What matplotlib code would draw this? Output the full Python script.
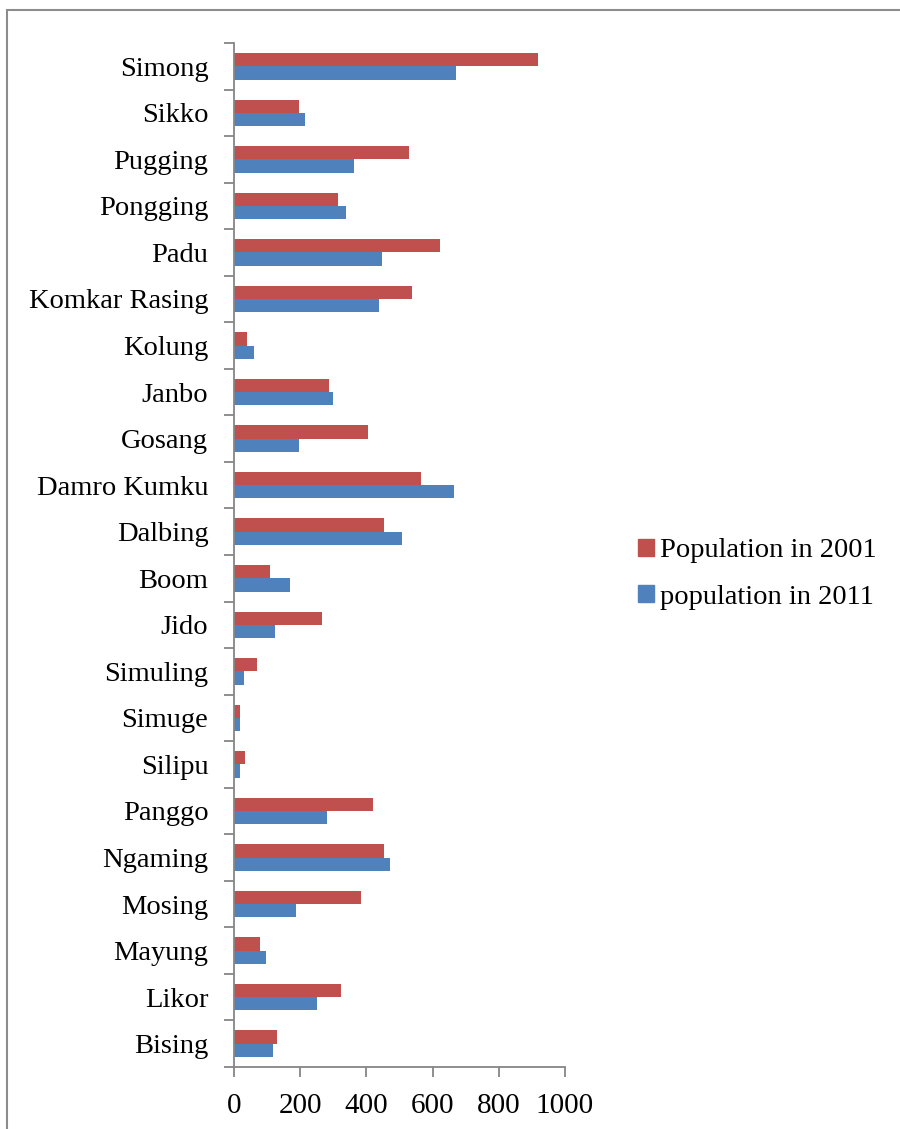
import numpy as np
import matplotlib
matplotlib.use('Agg')
import matplotlib.pyplot as plt
from matplotlib.patches import Rectangle, Patch

villages = ['Simong', 'Sikko', 'Pugging', 'Pongging', 'Padu', 'Komkar Rasing',
            'Kolung', 'Janbo', 'Gosang', 'Damro Kumku', 'Dalbing', 'Boom',
            'Jido', 'Simuling', 'Simuge', 'Silipu', 'Panggo', 'Ngaming',
            'Mosing', 'Mayung', 'Likor', 'Bising']
pop_2001 = [917, 196, 530, 315, 623, 538, 38, 288, 406, 565, 452, 109,
            266, 69, 19, 32, 421, 452, 384, 80, 324, 130]
pop_2011 = [672, 216, 364, 339, 448, 439, 61, 299, 195, 664, 509, 169,
            123, 30, 18, 18, 282, 471, 187, 97, 250, 118]
xticks = [0, 200, 400, 600, 800, 1000]

RED = '#C0504D'
BLUE = '#4F81BD'
GREY = '#868686'

plt.rcParams['font.family'] = ['Liberation Serif', 'DejaVu Serif']
fsize = 20.5

fig = plt.figure(figsize=(9, 11.29), dpi=100)
ax = fig.add_axes([234 / 900, 1 - 1067 / 1129, 331 / 900, 1024 / 1129])

# first category in the list sits at the top
n = len(villages)
pos = np.arange(n)[::-1]
h = 0.286
ax.barh(pos + h / 2, pop_2001, height=h, color=RED, label='Population in 2001')
ax.barh(pos - h / 2, pop_2011, height=h, color=BLUE, label='population in 2011')

ax.set_xlim(0, 1000)
ax.set_ylim(-0.5, n - 0.5)
ax.set_xticks(xticks)
ax.set_xticklabels([str(t) for t in xticks], fontsize=fsize + 0.5)

# boundary ticks on y, labels on the category centres
ax.set_yticks(np.arange(n + 1) - 0.5)
ax.set_yticklabels([])
ax.set_yticks(pos, minor=True)
ax.set_yticklabels(villages, minor=True, fontsize=fsize)
ax.tick_params(axis='y', which='major', length=7, width=1.3, color=GREY)
ax.tick_params(axis='y', which='minor', length=0, pad=18.5)
ax.tick_params(axis='x', length=7, width=1.3, color=GREY, pad=12)

for s in ['top', 'right']:
    ax.spines[s].set_visible(False)
for s in ['left', 'bottom']:
    ax.spines[s].set_color(GREY)
    ax.spines[s].set_linewidth(1.3)

handles = [Patch(color=RED), Patch(color=BLUE)]
fig.legend(handles, ['Population in 2001', 'population in 2011'],
           loc='center left', bbox_to_anchor=(624 / 900, 1 - 574 / 1129),
           frameon=False, fontsize=fsize, handlelength=0.55, handleheight=0.55,
           handletextpad=0.2, labelspacing=0.75, borderpad=0)

# chart area outline
fig.patches.append(Rectangle((7 / 900, -0.1), 1.1, 1.1 - 10 / 1129,
                             transform=fig.transFigure, fill=False,
                             edgecolor='#8C8C8C', linewidth=1.5))

fig.savefig('out.png', dpi=100)
